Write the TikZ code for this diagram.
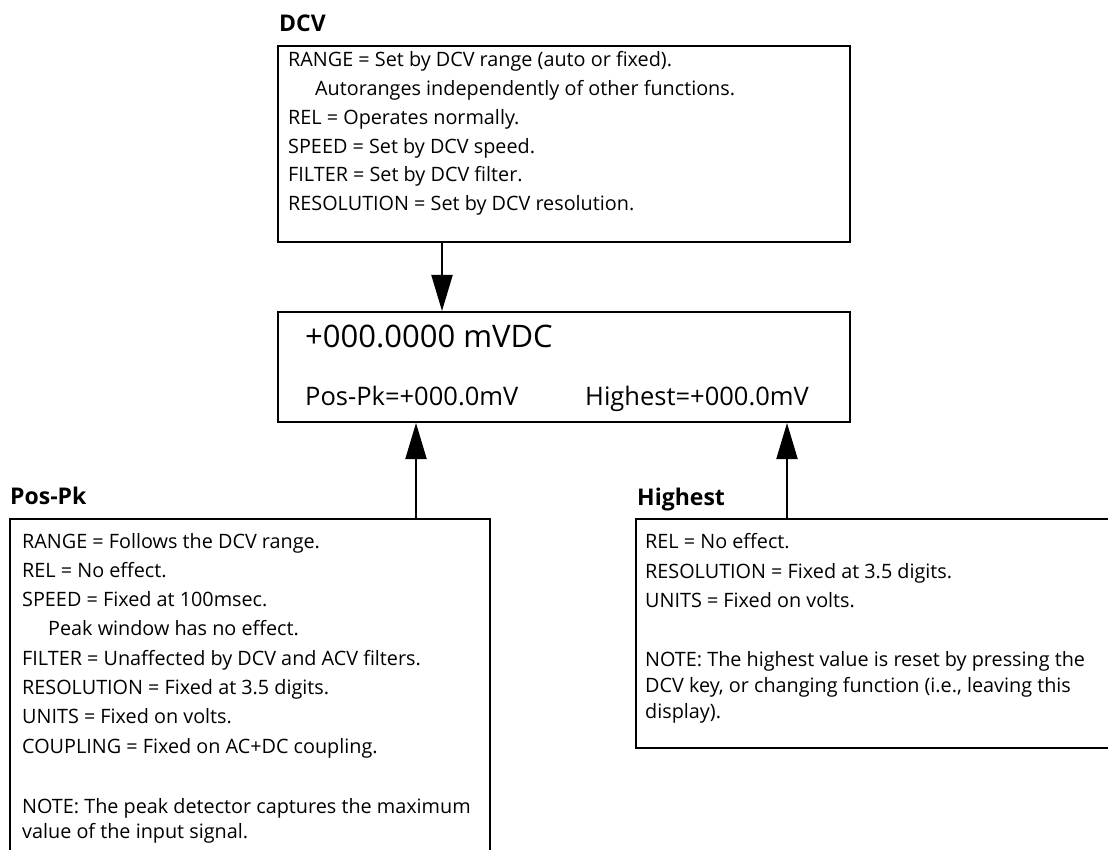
\documentclass[tikz,border=0pt]{standalone}
\usepackage{fontspec}
\setmainfont{Open Sans}
\usetikzlibrary{arrows.meta}

\tikzset{
  panel/.style={draw, line width=2pt, rectangle, anchor=north west, inner sep=0pt},
  line/.style={anchor=base west, inner sep=0pt, font=\fontsize{19.8}{24}\selectfont},
  head/.style={anchor=base west, inner sep=0pt, font=\fontsize{23}{27}\bfseries\selectfont},
  bigread/.style={anchor=base west, inner sep=0pt, font=\fontsize{31}{35}\selectfont},
  smallread/.style={anchor=base west, inner sep=0pt, font=\fontsize{25.5}{29}\selectfont},
  feed/.style={line width=2pt, -{Triangle[length=36pt,width=21pt]}},
}

\begin{document}
\begin{tikzpicture}[x=1pt,y=-1pt]
\useasboundingbox (0,0) rectangle (1108,850);
\clip (0,0) rectangle (1108,850);

% ===== DCV settings =====
\node[head] (dcvhead) at (279,32) {DCV};
\node[panel, minimum width=572pt, minimum height=196pt] (dcv) at (277,45) {};
\foreach \y/\t [count=\i] in {67/{RANGE = Set by DCV range (auto or fixed).},
    96/{\hspace*{27pt}Autoranges independently of other functions.},
    125/{REL = Operates normally.},
    154/{SPEED = Set by DCV speed.},
    182/{FILTER = Set by DCV filter.},
    211/{RESOLUTION = Set by DCV resolution.}}{
  \node[line] (dcv\i) at (288,\y) {\t};
}

% ===== display =====
\node[panel, minimum width=572pt, minimum height=110pt] (disp) at (277,311) {};
\node[bigread] (reading) at (305,347) {+000.0000 mVDC};
\node[smallread] (pkread) at (305,405) {Pos-Pk=+000.0mV};
\node[smallread] (hiread) at (585,405) {Highest=+000.0mV};

% ===== Pos-Pk settings =====
\node[head] (pkhead) at (10,504) {Pos-Pk};
\node[panel, minimum width=480pt, minimum height=400pt] (pospk) at (9,518) {};
\foreach \y/\t [count=\i] in {548/{RANGE = Follows the DCV range.},
    577/{REL = No effect.},
    606/{SPEED = Fixed at 100msec.},
    635/{\hspace*{26pt}Peak window has no effect.},
    665/{FILTER = Unaffected by DCV and ACV filters.},
    694/{RESOLUTION = Fixed at 3.5 digits.},
    723/{UNITS = Fixed on volts.},
    753/{COUPLING = Fixed on AC+DC coupling.},
    813/{NOTE: The peak detector captures the maximum},
    838/{value of the input signal.}}{
  \node[line] (pk\i) at (22,\y) {\t};
}

% ===== Highest settings =====
\node[head] (hihead) at (637,505) {Highest};
\node[panel, minimum width=520pt, minimum height=229pt] (highest) at (635,518) {};
\foreach \y/\t [count=\i] in {548/{REL = No effect.},
    578/{RESOLUTION = Fixed at 3.5 digits.},
    607/{UNITS = Fixed on volts.},
    666/{NOTE: The highest value is reset by pressing the},
    692/{DCV key, or changing function (i.e., leaving this},
    718/{display).}}{
  \node[line] (hi\i) at (645,\y) {\t};
}

% connectors
\draw[feed] ([xshift=165pt]dcv.south west) -- ([xshift=165pt]disp.north west);
\draw[feed] ([xshift=407pt]pospk.north west) -- ([xshift=139pt]disp.south west);
\draw[feed] ([xshift=152pt]highest.north west) -- ([xshift=510pt]disp.south west);

\end{tikzpicture}
\end{document}
